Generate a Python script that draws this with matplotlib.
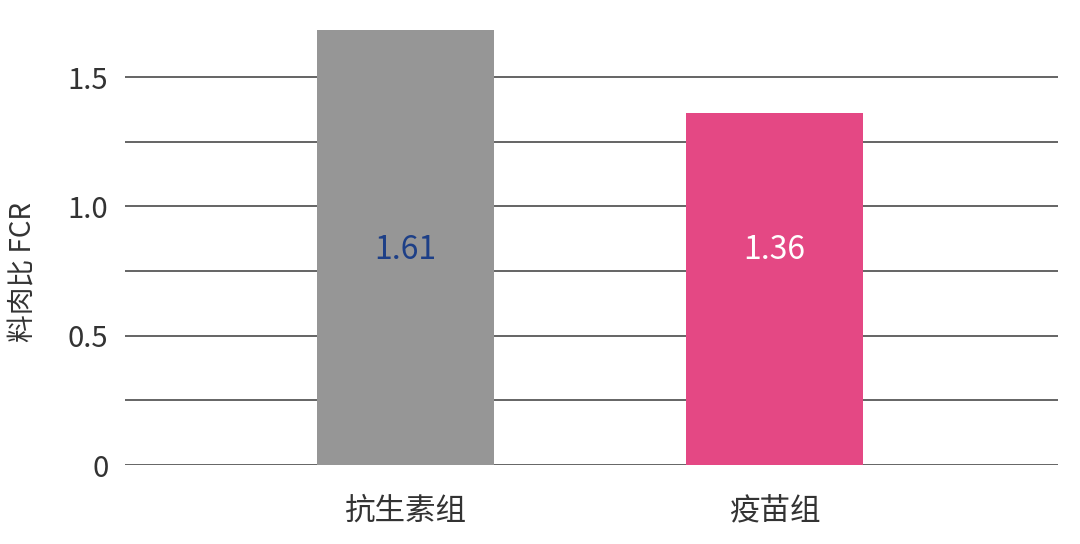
import matplotlib
matplotlib.use('Agg')
import matplotlib.pyplot as plt

plt.rcParams['font.family'] = ['Noto Sans CJK SC', 'DejaVu Sans']
plt.rcParams['font.weight'] = 'light'

# datos
grupos = ['抗生素组', '疫苗组']
alturas = [1.68, 1.36]
etiquetas = ['1.61', '1.36']
colores = ['#969696', '#e44884']
colores_texto = ['#1d3f87', '#ffffff']

fig = plt.figure(figsize=(10.8, 5.44), dpi=100)
ax = fig.add_axes([0.1157, 0.145, 0.8643, 0.818])

x = range(len(grupos))
ax.bar(x, alturas, width=0.48, color=colores, zorder=3)

# etiquetas de valor dentro de las barras
for i, (txt, c) in enumerate(zip(etiquetas, colores_texto)):
    ax.text(i, 0.83, txt, ha='center', va='center', fontsize=23, color=c, zorder=4)

ax.set_xlim(-0.76, 1.77)
ax.set_ylim(0, 1.72)
ax.set_yticks([0, 0.25, 0.5, 0.75, 1.0, 1.25, 1.5])
ax.set_yticklabels(['0', '', '0.5', '', '1.0', '', '1.5'])
ax.set_xticks(list(x))
ax.set_xticklabels(grupos)
ax.tick_params(axis='y', length=0, labelsize=21, colors='#333333', pad=12)
ax.tick_params(axis='x', length=0, labelsize=22, colors='#333333', pad=22)
ax.yaxis.grid(True, color='#4a4a4a', linewidth=1.2, zorder=0)
for s in ax.spines.values():
    s.set_visible(False)
ax.set_ylabel('料肉比 FCR', fontsize=20, color='#333333')
ax.yaxis.set_label_coords(-0.093, 0.434)

fig.savefig('out.png', dpi=100)
